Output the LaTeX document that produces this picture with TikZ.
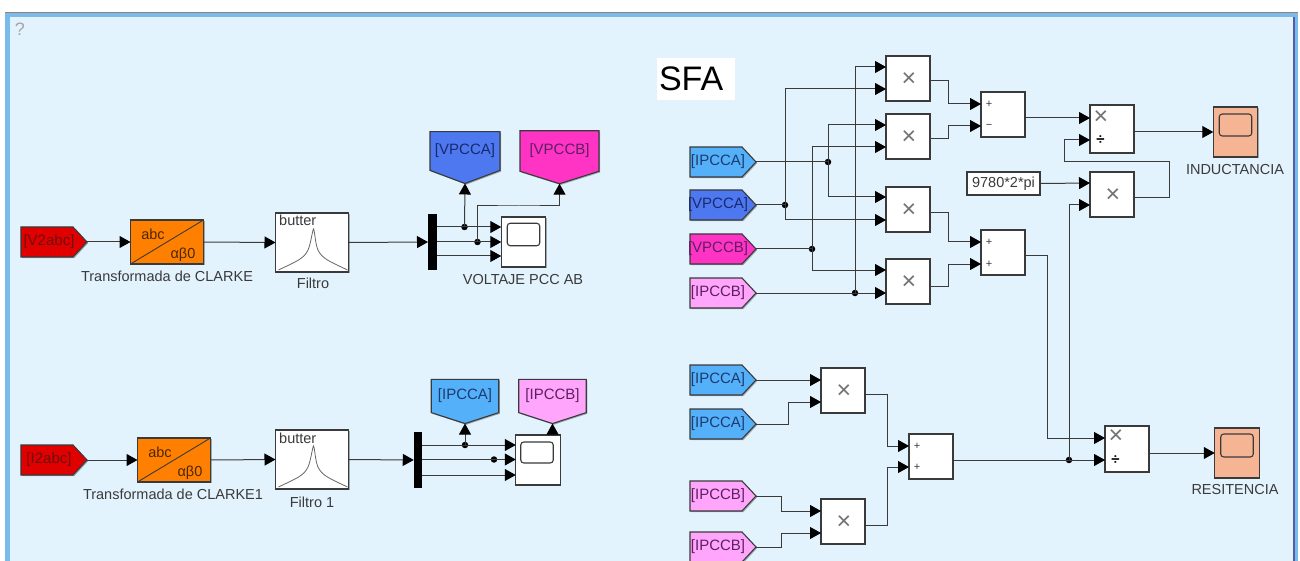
\documentclass[tikz,border=0pt]{standalone}
\usepackage{fontspec}
\setmainfont{Liberation Sans}
\usetikzlibrary{arrows.meta,shapes.symbols,shadows,calc}
\definecolor{panel}{HTML}{E3F3FE}
\definecolor{edge}{HTML}{78BCEE}
\definecolor{ink}{HTML}{3A3A3A}
\definecolor{redtag}{HTML}{E00000}
\definecolor{orangeblk}{HTML}{FF8000}
\definecolor{vablue}{HTML}{4D78F0}
\definecolor{vbpink}{HTML}{FF33C4}
\definecolor{iablue}{HTML}{55B0FA}
\definecolor{ibpink}{HTML}{FFA6FC}
\definecolor{salmon}{HTML}{F5B594}
\definecolor{txtred}{HTML}{6E1010}
\definecolor{txtia}{HTML}{1C3C6E}
\definecolor{txtva}{HTML}{1A2A6E}
\definecolor{txtpk}{HTML}{5E1F62}
\newcommand{\tagtext}[1]{\makebox[0pt][c]{\hspace*{4pt}#1}}
\tikzset{
  soft/.style={drop shadow={shadow xshift=1.2pt,shadow yshift=-1.2pt,opacity=.3,fill=black}},
  blockbox/.style={draw=ink,line width=1.2pt,fill=white,inner sep=0pt,outer sep=0pt,soft,minimum width=44pt,minimum height=45pt},
  filt/.style={blockbox,minimum width=73pt,minimum height=59pt},
  conv/.style={blockbox,fill=orangeblk,minimum width=73pt,minimum height=44pt},
  muxbar/.style={fill=black,inner sep=0pt,outer sep=0pt,minimum width=9pt,minimum height=56pt},
  scopebox/.style={blockbox,minimum width=44.5pt,minimum height=50pt},
  scopeicon/.style={draw=ink,line width=1.1pt,rounded corners=3pt,inner sep=0pt,minimum width=32.5pt,minimum height=22.5pt},
  tagR/.style={shape=signal,signal to=east,signal from=nowhere,signal pointer angle=94,draw=ink,line width=1.1pt,inner sep=0pt,outer sep=0pt,minimum width=66pt,minimum height=30pt,soft,font=\fontsize{15}{17}\selectfont},
  tagD/.style={shape=signal,signal to=south,signal from=nowhere,draw=ink,line width=1.1pt,inner sep=0pt,outer sep=0pt,soft,font=\fontsize{15}{17}\selectfont},
  wire/.style={draw=ink,line width=1pt},
  arrowed/.style={wire,-{Triangle[length=11pt,width=12pt,fill=black,color=black]}},
  jdot/.style={circle,fill=black,inner sep=0pt,minimum size=6.5pt},
  lab/.style={text=ink,font=\fontsize{14.5}{16}\selectfont,inner sep=0pt},
  glyph/.style={text=ink,inner sep=0pt},
}
\begin{document}
\begin{tikzpicture}[x=1pt,y=-1pt]
\useasboundingbox (0,0) rectangle (1300,561);
\fill[white] (0,0) rectangle (1300,561);
\fill[edge] (5,13) rectangle (1298,561);
\fill[gray!80!orange] (5,12) rectangle (1298,13.5);
\fill[panel] (10,17) rectangle (1293,561);
\fill[gray!70!blue] (1293,17) rectangle (1295,561);
\node[text=gray!70,font=\fontsize{18}{20}\selectfont,inner sep=0pt] (help) at (20,29) {?};
\node[fill=white,minimum height=42pt,text width=74pt,inner xsep=2pt,inner ysep=0pt,font=\fontsize{34}{36}\selectfont] (sfa) at (696,79) {SFA};

% --- upper left chain
\node[tagR,fill=redtag,text=txtred] (v2) at (47,242) {\tagtext{[V2abc]}};
\node[conv] (cl1) at (167,242) {};
\draw[ink,line width=.9pt] (cl1.south west) -- (cl1.north east);
\node[lab,text=black!70!orangeblk] (cl1a) at (153,234) {abc};
\node[lab,text=black!70!orangeblk] (cl1b) at (183,255) {αβ0};
\node[lab] (cl1l) at (167,276) {Transformada de CLARKE};
\node[filt] (f1) at (312,242.5) {};
\node[lab,anchor=west] (f1t) at (279,220.5) {butter};
\draw[gray!80!black,line width=.8pt] ($(f1.south west)+(3,-2)$) .. controls (295,262) and (304,259) .. (308,250) .. controls (311,243) and (312,232) .. (313.5,229) .. controls (315,232) and (315,243) .. (318,250) .. controls (322,259) and (331,262) .. ($(f1.south east)+(-1,-2)$);
\node[lab] (f1l) at (313,283) {Filtro};
\node[muxbar] (m1) at (432.5,242) {};
\node[scopebox] (s1) at (523.5,242) {};
\node[scopeicon] (s1i) at (523.5,234.5) {};
\node[lab] (s1l) at (523,280) {VOLTAJE PCC AB};
\node[tagD,fill=vablue,text=txtva,minimum width=70pt,minimum height=50pt,signal pointer angle=139] (va1) at (465,151) {\raisebox{2pt}{[VPCCA]}};
\node[tagD,fill=vbpink,text=txtpk,minimum width=79pt,minimum height=50pt,signal pointer angle=145] (vb1) at (559.5,151) {\raisebox{2pt}{[VPCCB]}};
\coordinate (m1a) at (437,227); \coordinate (m1b) at (437,242); \coordinate (m1c) at (437,256);
\coordinate (s1a) at (s1.west |- m1a); \coordinate (s1b) at (s1.west |- m1b); \coordinate (s1c) at (s1.west |- m1c);
\node[jdot] (j1) at (464.5,227) {};
\node[jdot] (j2) at (477.5,242) {};
\draw[arrowed] (v2.east) -- (cl1.west);
\draw[arrowed] (cl1.east) -- (f1.west);
\draw[arrowed] (f1.east) -- (m1.west);
\draw[arrowed] (m1a) -- (s1a);
\draw[arrowed] (m1b) -- (s1b);
\draw[arrowed] (m1c) -- (s1c);
\draw[arrowed] (j1.center) -- (va1.south);
\draw[arrowed] (j2.center) |- (519,206) -| (vb1.south);

% --- lower left chain
\node[tagR,fill=redtag,text=txtred] (i2) at (47,460) {\tagtext{[I2abc]}};
\node[conv] (cl2) at (174,460) {};
\draw[ink,line width=.9pt] (cl2.south west) -- (cl2.north east);
\node[lab,text=black!70!orangeblk] (cl2a) at (160,452) {abc};
\node[lab,text=black!70!orangeblk] (cl2b) at (190,473) {αβ0};
\node[lab] (cl2l) at (173,494) {Transformada de CLARKE1};
\node[filt] (f2) at (312,459.5) {};
\node[lab,anchor=west] (f2t) at (279,438) {butter};
\draw[gray!80!black,line width=.8pt] ($(f2.south west)+(3,-2)$) .. controls (295,479) and (304,476) .. (308,467) .. controls (311,460) and (312,449) .. (313.5,446) .. controls (315,449) and (315,460) .. (318,467) .. controls (322,476) and (331,479) .. ($(f2.south east)+(-1,-2)$);
\node[lab] (f2l) at (312,502) {Filtro 1};
\node[muxbar,minimum width=8.5pt] (m2) at (418,460) {};
\node[scopebox] (s2) at (538,460) {};
\node[scopeicon,minimum height=21pt] (s2i) at (537,452.5) {};
\node[tagD,fill=iablue,text=txtia,minimum width=67.5pt,minimum height=42pt,signal pointer angle=144] (ia1) at (465,396) {[IPCCA]};
\node[tagD,fill=ibpink,text=txtpk,minimum width=67.5pt,minimum height=42pt,signal pointer angle=144] (ib1) at (552.5,396) {[IPCCB]};
\coordinate (m2a) at (422,445); \coordinate (m2b) at (422,459.5); \coordinate (m2c) at (422,475);
\coordinate (s2a) at (s2.west |- m2a); \coordinate (s2b) at (s2.west |- m2b); \coordinate (s2c) at (s2.west |- m2c);
\node[jdot] (j3) at (465,445) {};
\node[jdot] (j4) at (494,459.5) {};
\draw[arrowed] (i2.east) -- (cl2.west);
\draw[arrowed] (cl2.east) -- (f2.west);
\draw[arrowed] (f2.east) -- (m2.west);
\draw[arrowed] (m2a) -- (s2a);
\draw[arrowed] (m2b) -- (s2b);
\draw[arrowed] (m2c) -- (s2c);
\draw[arrowed] (j3.center) -- (ia1.south);
\draw[arrowed] (s2.north -| ib1.south) -- (ib1.south);

% --- right: from tags
\node[tagR,fill=iablue,text=txtia] (ra) at (716,162) {\tagtext{[IPCCA]}};
\node[tagR,fill=vablue,text=txtva] (rb) at (716,205) {\tagtext{[VPCCA]}};
\node[tagR,fill=vbpink,text=txtpk] (rc) at (716,249) {\tagtext{[VPCCB]}};
\node[tagR,fill=ibpink,text=txtpk] (rd) at (716,293) {\tagtext{[IPCCB]}};
\node[tagR,fill=iablue,text=txtia] (re) at (716,380) {\tagtext{[IPCCA]}};
\node[tagR,fill=iablue,text=txtia] (rf) at (716,424) {\tagtext{[IPCCA]}};
\node[tagR,fill=ibpink,text=txtpk] (rg) at (716,496) {\tagtext{[IPCCB]}};
\node[tagR,fill=ibpink,text=txtpk] (rh) at (716,547) {\tagtext{[IPCCB]}};

% --- product / sum blocks
\newcommand{\prodmark}[1]{\node[glyph,text=gray!90!black,font=\fontsize{25}{25}\selectfont,yshift=-1pt,xshift=1pt] at (#1) {×};}
\node[blockbox] (p1) at (908,78.5) {}; \prodmark{p1}
\node[blockbox] (p2) at (908,136.5) {}; \prodmark{p2}
\node[blockbox] (p3) at (908,209.5) {}; \prodmark{p3}
\node[blockbox] (p4) at (908,281.5) {}; \prodmark{p4}
\node[blockbox] (p5) at (843,390.5) {}; \prodmark{p5}
\node[blockbox] (p6) at (843,521.5) {}; \prodmark{p6}
\node[blockbox] (q1) at (1003,114.5) {};
\node[blockbox] (q2) at (1003,252.5) {};
\node[blockbox] (q3) at (931,456.5) {};
\node[blockbox] (mu) at (1112,194.5) {}; \prodmark{mu}
\node[blockbox,minimum height=48pt] (d1) at (1112,129) {};
\node[blockbox,minimum height=46pt] (d2) at (1127,449) {};
\newcommand{\summark}[2]{\node[glyph,font=\fontsize{11}{11}\selectfont] at (#1) {#2};}
\summark{989,104}{+} \summark{989,126}{−}
\summark{989,242}{+} \summark{989,264}{+}
\summark{917,446}{+} \summark{917,467}{+}
\node[glyph,text=gray!90!black,font=\fontsize{25}{25}\selectfont] at (1101,118) {×};
\node[glyph,font=\fontsize{15}{15}\selectfont\bfseries,text=black] at (1100.5,140.5) {÷};
\node[glyph,text=gray!90!black,font=\fontsize{25}{25}\selectfont] at (1116,437) {×};
\node[glyph,font=\fontsize{15}{15}\selectfont\bfseries,text=black] at (1115.5,460.5) {÷};
\node[draw=ink,line width=1.2pt,fill=white,soft,inner sep=0pt,minimum width=73pt,minimum height=23pt,font=\fontsize{14.5}{16}\selectfont,text=ink] (k) at (1003.5,183.5) {9780*2*pi};

% --- scopes
\node[scopebox,fill=salmon] (s3) at (1235.5,132) {};
\node[scopeicon,minimum height=22pt] (s3i) at (1235.5,125) {};
\node[lab] (s3l) at (1235,170) {INDUCTANCIA};
\node[scopebox,fill=salmon] (s4) at (1237,453) {};
\node[scopeicon,minimum height=23pt] (s4i) at (1237,445.5) {};
\node[lab] (s4l) at (1235,490) {RESITENCIA};

% --- ports
\foreach \n/\a/\b in {p1/67/89,p2/125/147,p3/197/220,p4/270/293,p5/380/402,p6/511/533,q1/104/126,q2/242/264,q3/446/467,d1/118/140,mu/183/205,d2/438/460}{
  \coordinate (\n a) at (\n.west |- 0,\a);
  \coordinate (\n b) at (\n.west |- 0,\b);
}
\node[jdot] (ja) at (828,162) {};
\node[jdot] (jb) at (785,205) {};
\node[jdot] (jc) at (812,249) {};
\node[jdot] (jd) at (855,293) {};
\node[jdot] (je) at (1069,460) {};

% --- wires
\draw[wire] (ra.east) -- (ja.center);
\draw[wire] (rb.east) -- (jb.center);
\draw[wire] (rc.east) -- (jc.center);
\draw[arrowed] (rd.east) -- (p4b);
\draw[arrowed] (jd.center) |- (p1a);
\draw[arrowed] (jb.center) |- (p1b);
\draw[arrowed] (jb.center) |- (p3b);
\draw[arrowed] (ja.center) |- (p2a);
\draw[arrowed] (ja.center) |- (p3a);
\draw[arrowed] (jc.center) |- (p2b);
\draw[arrowed] (jc.center) |- (p4a);
\coordinate (p1o) at (p1.east |- 0,81); \coordinate (p2o) at (p2.east |- 0,139);
\coordinate (p3o) at (p3.east |- 0,213); \coordinate (p4o) at (p4.east |- 0,286);
\draw[arrowed] (p1o) -| (948,104) -- (q1a);
\draw[arrowed] (p2o) -| (948,126) -- (q1b);
\draw[arrowed] (p3o) -| (948,242) -- (q2a);
\draw[arrowed] (p4o) -| (948,264) -- (q2b);
\draw[arrowed] (q1.east |- d1a) -- (d1a);
\draw[arrowed] (k.east) -- (mua);
\draw[arrowed] (mu.east |- 0,198) -| (1169,162) -| (1064,140) -- (d1b);
\draw[arrowed] (d1.east |- 0,132) -- (s3.west |- 0,132);
\draw[arrowed] (q2.east |- 0,256) -| (1047,438) -- (d2a);
\draw[arrowed] (je.center) |- (mub);
\draw[arrowed] (q3.east |- d2b) -- (d2b);
\draw[arrowed] (d2.east |- 0,453) -- (s4.west |- 0,453);
\draw[arrowed] (re.east) -- (p5a);
\draw[arrowed] (rf.east) -| (788,402) -- (p5b);
\draw[arrowed] (rg.east) -| (781,511) -- (p6a);
\draw[arrowed] (rh.east) -| (781,533) -- (p6b);
\draw[arrowed] (p5.east |- 0,394) -| (887,446) -- (q3a);
\draw[arrowed] (p6.east |- 0,525) -| (887,467) -- (q3b);
\end{tikzpicture}
\end{document}
